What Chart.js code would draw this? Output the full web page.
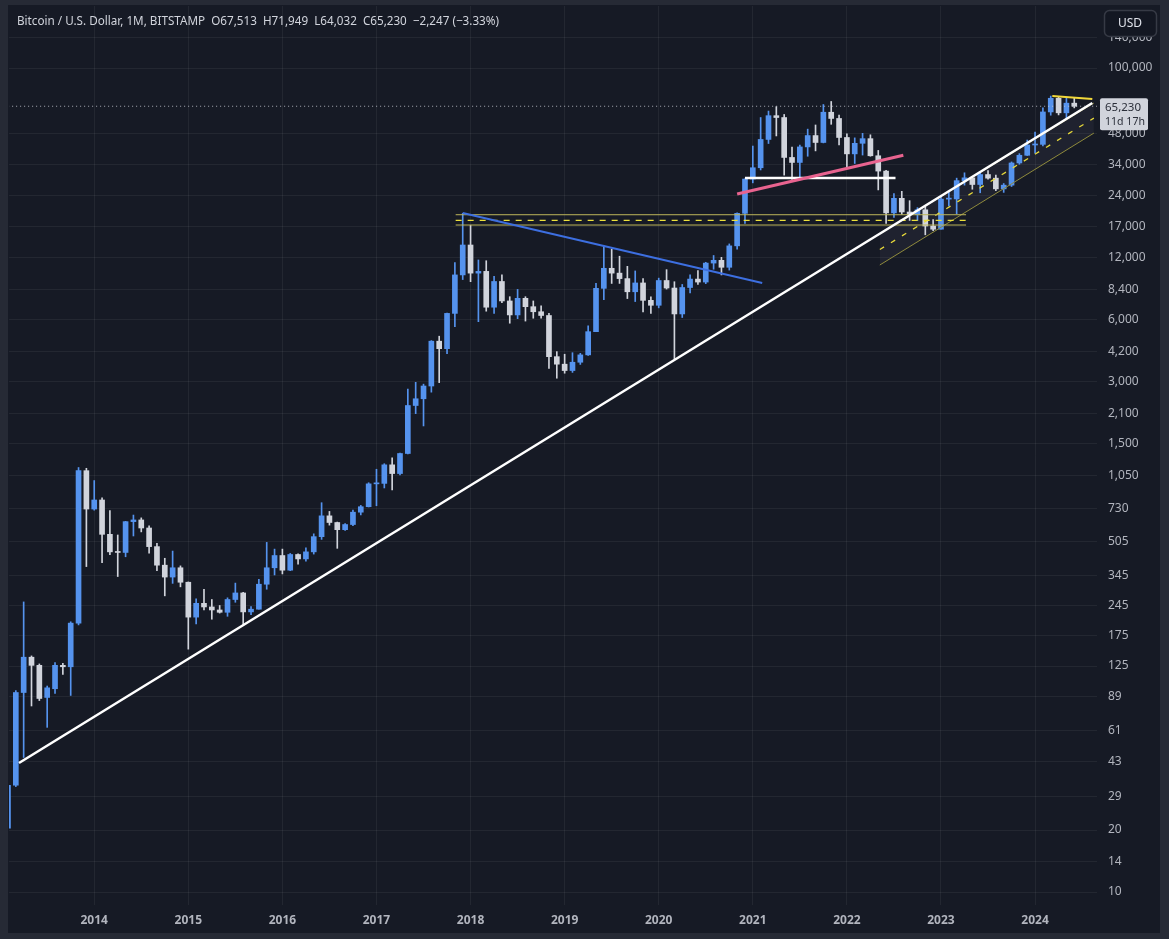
<!DOCTYPE html>
<html>
<head>
<meta charset="utf-8">
<script src="https://cdn.jsdelivr.net/npm/chart.js@4.4.1/dist/chart.umd.min.js"></script>
<style>
  html, body { margin: 0; padding: 0; background: #262a35; }
  canvas { display: block; }
</style>
</head>
<body>
<canvas id="btc" width="1169" height="939" style="width:1169px;height:939px"></canvas>
<script>
  // Monthly BTC/USD (Bitstamp), Feb 2013 .. Jun 2024. Month index 0 = Jan 2014
  const firstMonth = -11;

  const opens = [
    20.4, 33, 93, 138, 126, 88, 97, 126, 124, 202, 1110,
    723, 800, 545, 448, 445, 628, 640, 585, 475, 386, 338, 375,
    319, 216, 252, 242, 234, 228, 263, 283, 229, 236, 312, 375,
    430, 365, 435, 414, 448, 531, 670, 622, 574, 608, 698, 742,
    958, 963, 1185, 1075, 1345, 2300, 2480, 2860, 4720, 4340, 6440, 9900,
    13830, 10100, 10300, 6900, 9200, 7400, 6330, 7620, 6940, 6560, 6290, 3970,
    3650, 3400, 3730, 4050, 5250, 8520, 10660, 10100, 9500, 8200, 9050, 7450,
    7050, 9300, 8550, 6400, 8600, 9450, 9140, 11300, 11650, 10780, 13700, 19700,
    28900, 32800, 45000, 58700, 57500, 36800, 34800, 41400, 47000, 43500, 61000, 56900,
    46000, 38300, 43100, 45400, 37500, 31600, 19800, 23300, 20000, 19400, 20500, 17100,
    16500, 23100, 23150, 28400, 29300, 27200, 30400, 29200, 25900, 27000, 34600, 37700,
    42300, 42600, 61200, 71300, 60600, 67513
  ];
  const highs = [
    33.4, 95, 256, 140, 128, 100, 130, 129, 205, 1150, 1140,
    994, 820, 710, 541, 630, 676, 655, 600, 493, 417, 452, 383,
    320, 265, 295, 263, 246, 268, 316, 285, 243, 330, 498, 462,
    462, 440, 438, 468, 548, 776, 704, 625, 615, 715, 753, 970,
    1128, 1200, 1280, 1350, 2760, 2980, 2920, 4750, 4990, 6470, 11350, 19700,
    17250, 11700, 11600, 9750, 9900, 7760, 8420, 7760, 7400, 7000, 6440, 4200,
    4080, 4150, 4120, 5600, 9000, 13700, 13200, 12200, 10900, 10350, 9500, 7740,
    9550, 10500, 9175, 8900, 9900, 10400, 11400, 12300, 12050, 14000, 19800, 29000,
    41800, 57500, 61800, 64900, 59500, 41300, 42300, 50500, 52900, 66500, 68800, 59100,
    47900, 45800, 48200, 47400, 39800, 31900, 24600, 25200, 22700, 21000, 21400, 18400,
    23900, 25200, 29200, 31000, 29800, 31400, 31800, 30200, 27500, 35000, 38400, 44700,
    48900, 64000, 73100, 72800, 71900, 71949
  ];
  const lows = [
    19.1, 32.5, 45, 80, 85, 63, 92, 114, 90, 198, 380,
    714, 397, 434, 340, 424, 535, 560, 441, 363, 274, 315, 303,
    151, 200, 234, 211, 226, 218, 255, 199, 222, 236, 295, 346,
    350, 363, 390, 404, 437, 515, 604, 466, 570, 600, 677, 740,
    750, 915, 894, 1060, 1340, 2100, 1830, 2670, 2970, 4110, 5550, 9400,
    9180, 5870, 6600, 6430, 7250, 5770, 6070, 5910, 6100, 6100, 3480, 3120,
    3300, 3330, 3640, 4030, 5250, 7500, 9000, 9000, 7600, 7350, 6550, 6440,
    6850, 8450, 3880, 6150, 8100, 8900, 8980, 10550, 9900, 10450, 13200, 17600,
    27700, 32000, 43000, 46800, 30200, 28800, 29300, 37300, 39600, 43300, 53300, 42300,
    33200, 34400, 37800, 37300, 25600, 17600, 18800, 19500, 18200, 18200, 15500, 16250,
    16500, 21400, 19600, 27000, 25800, 24800, 28900, 25400, 24900, 26600, 34100, 37600,
    38600, 41900, 59000, 59200, 56600, 64032
  ];
  const closes = [
    33, 93, 138, 126, 87, 98, 126, 124, 202, 1110, 723,
    800, 545, 448, 445, 628, 640, 585, 475, 386, 338, 375, 319,
    216, 252, 242, 234, 228, 263, 283, 229, 236, 312, 375, 430,
    365, 435, 414, 448, 531, 670, 622, 574, 608, 698, 742, 958,
    963, 1185, 1075, 1345, 2300, 2480, 2860, 4720, 4340, 6440, 9900, 13830,
    10100, 10300, 6900, 9200, 7400, 6330, 7620, 6940, 6560, 6290, 3970, 3650,
    3400, 3730, 4050, 5250, 8520, 10660, 10100, 9500, 8200, 9050, 7450, 7050,
    9300, 8550, 6400, 8600, 9450, 9140, 11300, 11650, 10780, 13700, 19700, 28900,
    32800, 45000, 58700, 57500, 36800, 34800, 41400, 47000, 43500, 61000, 56900, 46000,
    38300, 43100, 45400, 37500, 31600, 19800, 23300, 20000, 19400, 20500, 17100, 16500,
    23100, 23150, 28400, 29300, 27200, 30400, 29200, 25900, 27000, 34600, 37700, 42300,
    42600, 61200, 71300, 60600, 67500, 65230
  ];

  const yearTicks = [2014, 2015, 2016, 2017, 2018, 2019, 2020, 2021, 2022, 2023, 2024];
  const priceTicks = [10, 14, 20, 29, 43, 61, 89, 125, 175, 245, 345, 505, 730, 1050,
    1500, 2100, 3000, 4200, 6000, 8400, 12000, 17000, 24000, 34000, 48000, 100000, 140000];
  const lastPrice = 65230;

  // drawings, as [month index, price] pairs
  const longSupport = [[-9.6, 42.3], [127.3, 67600]];
  const topDowntrend = [[47.0, 19800], [85.2, 9050]];
  const zoneTop = [[46.1, 19400], [111.2, 19400]];
  const zoneMid = [[46.1, 18230], [111.2, 18230]];
  const zoneBottom = [[46.1, 17290], [111.2, 17290]];
  const pinkLine = [[82.0, 24450], [103.2, 37700]];
  const flatLine = [[83.0, 29250], [102.2, 29250]];
  const channelUpper = [[100.2, 15640], [127.5, 67600]];
  const channelMid = [[100.2, 13150], [127.5, 57140]];
  const channelLower = [[100.2, 11060], [127.5, 48300]];
  const topLine = [[122.2, 73100], [127.3, 70700]];

  const UP = '#5593ee';
  const DOWN = '#d1d4dc';
  const candleColors = closes.map((c, i) => c >= opens[i] ? UP : DOWN);

  const wickData = highs.map((h, i) => ({ x: firstMonth + i, y: [lows[i], h] }));
  const bodyData = opens.map((o, i) => ({ x: firstMonth + i, y: [Math.min(o, closes[i]), Math.max(o, closes[i])] }));
  const pts = arr => arr.map(p => ({ x: p[0], y: p[1] }));

  function seg(data, color, width, extra) {
    return Object.assign({
      type: 'line',
      data: pts(data),
      borderColor: color,
      borderWidth: width,
      pointRadius: 0,
      fill: false,
      tension: 0
    }, extra || {});
  }

  const frame = {
    id: 'frame',
    beforeDraw(chart) {
      const ctx = chart.ctx;
      ctx.save();
      ctx.fillStyle = '#262a35';
      ctx.fillRect(0, 0, chart.width, chart.height);
      ctx.fillStyle = '#161a25';
      ctx.fillRect(8, 5, 1152, 928);
      ctx.restore();
    },
    afterDraw(chart) {
      const ctx = chart.ctx;
      const y = chart.scales.y;
      ctx.save();
      // header, squeezed to the width it has in the screenshot
      const header = 'Bitcoin / U.S. Dollar, 1M, BITSTAMP  O67,513  H71,949  L64,032  C65,230  \u22122,247 (\u22123.33%)';
      ctx.font = '12.5px "Noto Sans"';
      ctx.fillStyle = '#d1d4dc';
      ctx.textBaseline = 'middle';
      ctx.textAlign = 'left';
      const w = ctx.measureText(header).width;
      ctx.save();
      ctx.translate(17, 21);
      ctx.scale(482 / w, 1);
      ctx.fillText(header, 0, 0);
      ctx.restore();

      // last price badge
      const py = y.getPixelForValue(lastPrice);
      ctx.fillStyle = '#d1d4dc';
      ctx.beginPath();
      ctx.roundRect(1100, py - 8, 48, 32, 2);
      ctx.fill();
      ctx.fillStyle = '#2a2e39';
      ctx.font = '11.5px "Noto Sans"';
      ctx.fillText('65,230', 1105, py + 1);
      ctx.save();
      ctx.translate(1105, py + 15);
      const w2 = ctx.measureText('11d 17h').width;
      ctx.scale(Math.min(1, 40 / w2), 1);
      ctx.fillText('11d 17h', 0, 0);
      ctx.restore();

      // currency button
      ctx.fillStyle = '#131722';
      ctx.strokeStyle = '#363a45';
      ctx.lineWidth = 1.5;
      ctx.beginPath();
      ctx.roundRect(1104.5, 10.5, 52, 26, 5);
      ctx.fill();
      ctx.stroke();
      ctx.fillStyle = '#e0e3eb';
      ctx.font = '12px "Noto Sans"';
      ctx.textAlign = 'center';
      ctx.fillText('USD', 1130, 24);
      ctx.restore();
    }
  };

  new Chart(document.getElementById('btc'), {
    type: 'bar',
    data: {
      datasets: [
        { label: 'wicks', data: wickData, backgroundColor: candleColors, barThickness: 1, grouped: false, order: 10 },
        { label: 'bodies', data: bodyData, backgroundColor: candleColors, barThickness: 5, minBarLength: 1, grouped: false, order: 9 },
        seg(channelUpper, '#8f8a3c', 1, { order: 6 }),
        seg(channelLower, '#8f8a3c', 1, { order: 6, fill: '-1', backgroundColor: 'rgba(140,145,160,0.08)' }),
        seg(channelMid, '#e6d83a', 1.3, { order: 5, borderDash: [5, 8] }),
        seg(zoneTop, '#bdb55a', 1, { order: 4 }),
        seg(zoneMid, '#ece03c', 1.3, { order: 4, borderDash: [6, 6] }),
        seg(zoneBottom, '#bdb55a', 1, { order: 4 }),
        seg(topDowntrend, '#3d6fe0', 2, { order: 3 }),
        seg(pinkLine, '#e8638f', 3, { order: 3 }),
        seg(flatLine, '#ffffff', 2.5, { order: 3 }),
        seg(longSupport, '#ffffff', 2.5, { order: 2 }),
        seg(topLine, '#f2d83a', 2, { order: 2 }),
        seg([[-12, lastPrice], [130, lastPrice]], 'rgba(200,203,212,0.85)', 1, { order: 1, borderDash: [1, 3] })
      ]
    },
    options: {
      responsive: false,
      animation: false,
      devicePixelRatio: 1,
      layout: { padding: { left: 9, top: 6, right: 0, bottom: 0 } },
      plugins: {
        legend: { display: false },
        tooltip: { enabled: false },
        filler: { drawTime: 'beforeDatasetsDraw' }
      },
      scales: {
        x: {
          type: 'linear',
          min: -10.87,
          max: 127.9,
          offset: false,
          bounds: 'data',
          grid: { color: 'rgba(255,255,255,0.06)', offset: false, drawTicks: false },
          border: { display: false },
          afterBuildTicks: s => { s.ticks = yearTicks.map(yr => ({ value: (yr - 2014) * 12 })); },
          afterFit: s => { s.height = 34; s.paddingLeft = 0; s.paddingRight = 0; },
          ticks: {
            autoSkip: false,
            maxRotation: 0,
            padding: 8,
            color: '#b2b5be',
            font: { family: 'Noto Sans', size: 12, weight: 'bold' },
            callback: v => String(2014 + Math.round(v / 12))
          }
        },
        y: {
          type: 'logarithmic',
          position: 'right',
          min: 8.65,
          max: 200000,
          bounds: 'data',
          grid: { color: 'rgba(255,255,255,0.06)', drawTicks: false },
          border: { display: false },
          afterBuildTicks: s => { s.ticks = priceTicks.map(v => ({ value: v })); },
          afterFit: s => { s.width = 72; s.paddingTop = 0; s.paddingBottom = 0; },
          ticks: {
            autoSkip: false,
            padding: 11,
            color: '#b2b5be',
            font: { family: 'Noto Sans', size: 12 },
            callback: v => Number(v).toLocaleString('en-US')
          }
        }
      }
    },
    plugins: [frame]
  });
</script>
</body>
</html>
